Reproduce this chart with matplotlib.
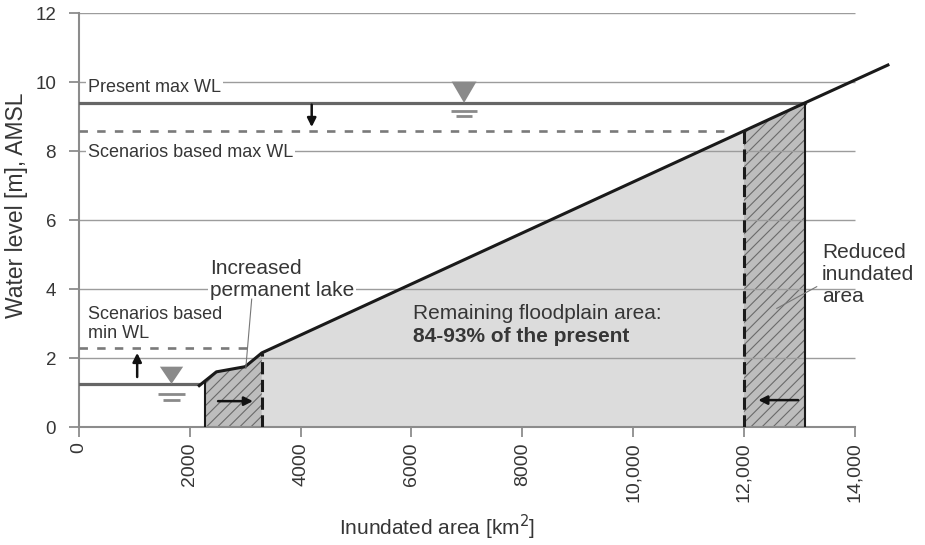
import numpy as np
import matplotlib
matplotlib.use("Agg")
import matplotlib.pyplot as plt
from matplotlib.patches import Polygon

plt.rcParams["font.family"] = ["Liberation Sans", "DejaVu Sans"]
plt.rcParams["hatch.linewidth"] = 0.8

# stage-area relation of the floodplain (area in km2, level in m AMSL)
curve_area = [2170, 2480, 3000, 3300, 13100, 14600]
curve_level = [1.2, 1.6, 1.75, 2.15, 9.4, 10.5]

present_max_wl = 9.4
scenario_max_wl = 8.6
present_min_wl = 1.25
scenario_min_wl = 2.3

# inundated area limits
present_lake_edge = 2270
scenario_lake_edge = 3300
scenario_flood_edge = 12000
present_flood_edge = 13100

scenario_max_line_end = 11700
scenario_min_line_end = 3100

x_ticks = [0, 2000, 4000, 6000, 8000, 10000, 12000, 14000]
x_tick_labels = ["0", "2000", "4000", "6000", "8000", "10,000", "12,000", "14,000"]
y_ticks = [0, 2, 4, 6, 8, 10, 12]

TEXT = "#363636"
AXIS = "#8c8c8c"


def level_at(x):
    return float(np.interp(x, curve_area, curve_level))


def area_polygon(x0, x1):
    # closed outline under the curve between two areas
    inner = [(x, y) for x, y in zip(curve_area, curve_level) if x0 < x < x1]
    top = [(x0, level_at(x0))] + inner + [(x1, level_at(x1))]
    return [(x0, 0)] + top + [(x1, 0)]


fig = plt.figure(figsize=(9.25, 5.45), dpi=100)
ax = fig.add_axes([79 / 925, 118 / 545, 820 / 925, 413.7 / 545])
ax.set_xlim(0, 14800)
ax.set_ylim(0, 12)

# remaining floodplain and the two changed areas
ax.add_patch(Polygon(area_polygon(scenario_lake_edge, scenario_flood_edge),
                     closed=True, facecolor="#dcdcdc", lw=0, zorder=1))
for x0, x1 in [(present_lake_edge, scenario_lake_edge),
               (scenario_flood_edge, present_flood_edge)]:
    ax.add_patch(Polygon(area_polygon(x0, x1), closed=True, facecolor="#bdbdbd",
                         edgecolor="#6a6a6a", hatch="///", lw=0, zorder=1))

ax.hlines(y_ticks[1:], 0, 14000, color="#9c9c9c", lw=1.0, zorder=2)

# water levels
ax.plot([0, present_flood_edge], [present_max_wl] * 2, color="#666666", lw=2.3, zorder=4)
ax.plot([0, scenario_max_line_end], [scenario_max_wl] * 2, color="#7a7a7a", lw=1.9,
        ls=(0, (3.2, 3.5)), zorder=4)
ax.plot([0, curve_area[0]], [present_min_wl] * 2, color="#666666", lw=2.3, zorder=4)
ax.plot([0, scenario_min_line_end], [scenario_min_wl] * 2, color="#7a7a7a", lw=1.9,
        ls=(0, (3.2, 3.5)), zorder=4)

ax.plot(curve_area, curve_level, color="#1a1a1a", lw=2.2, zorder=5, clip_on=False)

# area limits
for x in [present_lake_edge, present_flood_edge]:
    ax.plot([x, x], [0, level_at(x)], color="#1a1a1a", lw=1.5, zorder=5)
for x in [scenario_lake_edge, scenario_flood_edge]:
    ax.plot([x, x], [0, level_at(x)], color="#1a1a1a", lw=2.2,
            ls=(0, (4, 1.8)), zorder=5)

# water surface symbols
def water_symbol(xc, level, w, h, gaps, widths):
    ax.add_patch(Polygon([(xc - w / 2, level + h), (xc + w / 2, level + h), (xc, level)],
                         closed=True, facecolor="#8a8a8a", lw=0, zorder=6))
    for g, lw_ in zip(gaps, widths):
        ax.plot([xc - lw_ / 2, xc + lw_ / 2], [level - g] * 2, color="#8a8a8a",
                lw=2.0, solid_capstyle="butt", zorder=6)


water_symbol(6950, present_max_wl, 450, 0.62, [0.22, 0.39], [480, 300])
water_symbol(1670, present_min_wl, 420, 0.5, [0.28, 0.46], [480, 300])

# change arrows
arrow = dict(arrowstyle="-|>", color="#111111", lw=1.8, mutation_scale=13,
             shrinkA=0, shrinkB=0)
ax.annotate("", xy=(4200, scenario_max_wl + 0.1), xytext=(4200, present_max_wl - 0.05),
            arrowprops=arrow, zorder=7)
ax.annotate("", xy=(1050, scenario_min_wl - 0.15), xytext=(1050, present_min_wl + 0.2),
            arrowprops=arrow, zorder=7)
ax.annotate("", xy=(scenario_lake_edge - 160, 0.75), xytext=(2510, 0.75),
            arrowprops=arrow, zorder=7)
ax.annotate("", xy=(scenario_flood_edge + 260, 0.78), xytext=(present_flood_edge - 120, 0.78),
            arrowprops=arrow, zorder=7)

# labels
box = dict(facecolor="white", edgecolor="none", pad=1.5)
ax.text(160, 9.86, "Present max WL", fontsize=13, color=TEXT, va="center", bbox=box, zorder=8)
ax.text(160, 7.97, "Scenarios based max WL", fontsize=13, color=TEXT, va="center",
        bbox=box, zorder=8)
ax.text(160, 2.99, "Scenarios based\nmin WL", fontsize=13, color=TEXT, va="center", zorder=8)
ax.text(2365, 4.29, "Increased\npermanent lake", fontsize=15, color=TEXT, va="center",
        bbox=box, zorder=8)
ax.plot([3117, 3010], [3.71, 1.7], color="#777777", lw=0.8, zorder=8)
ax.text(6030, 3.3, "Remaining floodplain area:", fontsize=15, color=TEXT, va="center", zorder=8)
ax.text(6030, 2.62, "84-93% of the present", fontsize=15, color=TEXT, va="center",
        fontweight="bold", zorder=8)
ax.text(13410, 4.43, "Reduced\ninundated\narea", fontsize=15, color=TEXT, va="center",
        clip_on=False, zorder=8)
ax.plot([13315, 12594], [4.07, 3.44], color="#777777", lw=0.8, zorder=8, clip_on=False)

# axes
for side in ["top", "right"]:
    ax.spines[side].set_visible(False)
for side in ["left", "bottom"]:
    ax.spines[side].set_color(AXIS)
    ax.spines[side].set_linewidth(1.5)
ax.spines["left"].set_bounds(0, 12)
ax.spines["bottom"].set_bounds(0, 14000)

ax.set_xticks(x_ticks)
ax.set_xticklabels(x_tick_labels, rotation=90, fontsize=14)
ax.set_yticks(y_ticks)
ax.tick_params(direction="out", length=7, width=1.3, color=AXIS, labelcolor=TEXT)
ax.tick_params(axis="y", labelsize=13.5, pad=9.5)
ax.tick_params(axis="x", pad=4)

fig.text(17 / 925, 1 - 205 / 545, "Water level [m], AMSL", rotation=90, fontsize=16.5,
         color=TEXT, ha="center", va="center")
fig.text(437 / 925, 1 - 527 / 545, "Inundated area [km$^2$]", fontsize=15,
         color=TEXT, ha="center", va="center")

fig.savefig("out.png", dpi=100)
